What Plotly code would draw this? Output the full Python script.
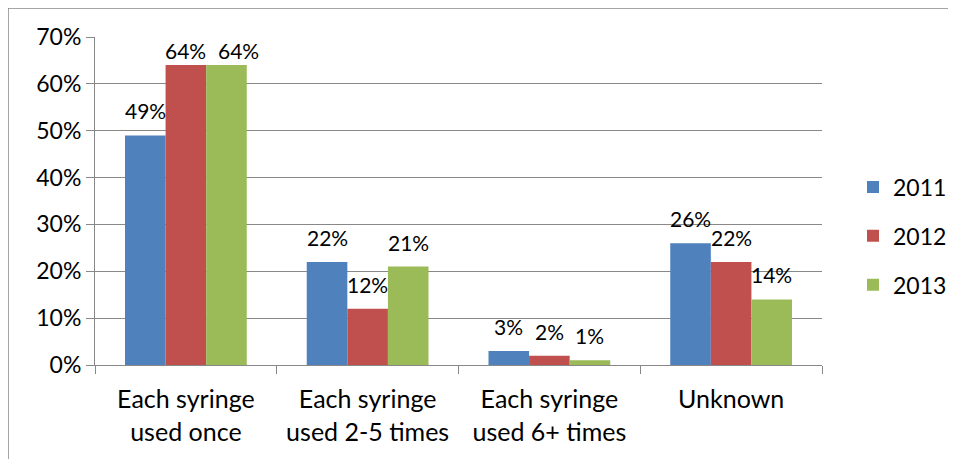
import plotly.graph_objects as go

categories = ["Each syringe<br>used once", "Each syringe<br>used 2-5 times",
              "Each syringe<br>used 6+ times", "Unknown"]
years = ["2011", "2012", "2013"]
values_2011 = [49, 22, 3, 26]
values_2012 = [64, 12, 2, 22]
values_2013 = [64, 21, 1, 14]
colors = ["#4F81BD", "#C0504D", "#9BBB59"]

FONT = "Lato"
fs = 23
lfs = 21
BARGAP = 0.33
YMAX = 70

# page has an 8px body margin; figure is sized to fit
W, H = 948, 451
L, T = 87, 29
R = W - 814
B = H - 357
pw, ph = W - L - R, H - T - B
bar_px = pw / len(categories) * (1 - BARGAP) / len(years)

series = [values_2011, values_2012, values_2013]
fig = go.Figure()
annotations = []
for i, (yr, vals) in enumerate(zip(years, series)):
    fig.add_trace(go.Bar(
        x=categories, y=vals, name=yr, marker_color=colors[i], marker_line_width=0,
        legendgroup=yr,
    ))
    for j, v in enumerate(vals):
        shift = (i - 1) * bar_px
        if i > 0 and series[i - 1][j] == v:
            shift += 12  # nudge label to avoid overlapping its neighbour
        # keep labels inside the plot area (like the original)
        room = (YMAX - v) * ph / YMAX - 28
        ys = max(0, min(10, room))
        annotations.append(dict(
            x=categories[j], y=v, xref="x", yref="y", text=f"{v}%",
            showarrow=False, xshift=shift, yshift=ys, yanchor="bottom",
            font=dict(family=FONT, size=lfs, color="#000"),
        ))

fig.update_layout(
    width=W, height=H,
    margin=dict(l=L, r=R, t=T, b=B, autoexpand=False),
    paper_bgcolor="white", plot_bgcolor="white",
    barmode="group", bargap=BARGAP, bargroupgap=0,
    font=dict(family=FONT, size=fs, color="#000"),
    showlegend=True,
    legend=dict(xref="container", x=845 / W, y=(357 - 228) / ph,
                xanchor="left", yanchor="middle",
                font=dict(family=FONT, size=fs), tracegroupgap=16,
                itemwidth=30),
    yaxis=dict(range=[0, YMAX], dtick=10, ticksuffix="%", showgrid=True,
               gridcolor="#888888", gridwidth=1, showline=True, linecolor="#888888",
               ticks="outside", ticklen=8, tickcolor="#888888", zeroline=False,
               tickfont=dict(family=FONT, size=fs)),
    xaxis=dict(showline=True, linecolor="#888888", ticks="outside", ticklen=8,
               tickcolor="#888888", tickson="boundaries", ticklabelstandoff=12,
               tickfont=dict(family=FONT, size=25)),
    annotations=annotations,
    shapes=[dict(type="rect", xref="paper", yref="paper",
                 x0=-L / pw, x1=1 + (R + 10) / pw, y0=-(B + 10) / ph, y1=1 + T / ph,
                 line=dict(color="#888888", width=1.5))],
)

fig.write_html("out.html")
